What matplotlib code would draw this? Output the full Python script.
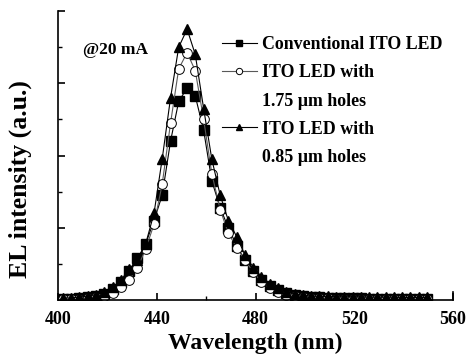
import numpy as np
import matplotlib as mpl
mpl.use('Agg')
import matplotlib.pyplot as plt
from matplotlib.lines import Line2D
from matplotlib.ticker import MultipleLocator, NullFormatter

plt.rcParams['font.family'] = 'Liberation Serif'
plt.rcParams['font.weight'] = 'bold'

# shared wavelength grid (nm)
wavelength = [402.0, 405.4, 408.7, 412.1, 415.4, 418.8, 422.1, 425.5, 428.8, 432.2,
              435.5, 438.9, 442.2, 445.6, 448.9, 452.3, 455.6, 459.0, 462.3, 465.7,
              469.0, 472.4, 475.7, 479.1, 482.4, 485.8, 489.1, 492.5, 495.8, 499.2,
              502.5, 505.9, 509.2, 512.6, 515.9, 519.3, 522.6, 526.0, 529.3, 532.7,
              536.0, 539.4, 542.7, 546.1, 549.4]

conventional = [0.03, 0.04, 0.05, 0.07, 0.10, 0.17, 0.30, 0.50, 0.80, 1.15,
                1.55, 2.20, 2.90, 4.40, 5.50, 5.87, 5.65, 4.70, 3.30, 2.55,
                2.00, 1.50, 1.10, 0.80, 0.55, 0.40, 0.28, 0.20, 0.14, 0.10,
                0.08, 0.07, 0.06, 0.06, 0.05, 0.05, 0.05, 0.04, 0.04, 0.04,
                0.04, 0.04, 0.03, 0.03, 0.03]

holes_175 = [0.02, 0.03, 0.04, 0.05, 0.08, 0.12, 0.20, 0.35, 0.55, 0.90,
             1.40, 2.10, 3.20, 4.90, 6.40, 6.85, 6.35, 5.00, 3.50, 2.50,
             1.85, 1.45, 1.10, 0.78, 0.50, 0.33, 0.22, 0.15, 0.10, 0.08,
             0.06, 0.05, 0.05, 0.04, 0.04, 0.04, 0.04, 0.03, 0.03, 0.03,
             0.03, 0.03, 0.03, 0.03, 0.03]

holes_085 = [0.05, 0.06, 0.08, 0.11, 0.15, 0.22, 0.35, 0.55, 0.85, 1.10,
             1.55, 2.40, 3.90, 5.60, 7.00, 7.50, 6.80, 5.30, 3.90, 2.90,
             2.20, 1.75, 1.25, 0.90, 0.65, 0.45, 0.32, 0.23, 0.17, 0.13,
             0.11, 0.10, 0.10, 0.09, 0.09, 0.09, 0.09, 0.08, 0.08, 0.08,
             0.08, 0.07, 0.07, 0.07, 0.07]

fig = plt.figure(figsize=(4.71, 3.58), dpi=100)
ax = fig.add_axes([0.123, 0.162, 0.839, 0.807])

l1, = ax.plot(wavelength, conventional, color='black', lw=0.8, marker='s', ms=6.5,
              mfc='black', mec='black', label='Conventional ITO LED')
l2, = ax.plot(wavelength, holes_175, color='0.35', lw=0.8, marker='o', ms=7,
              mfc='white', mec='black', mew=0.7, label='ITO LED with')
l3, = ax.plot(wavelength, holes_085, color='black', lw=0.8, marker='^', ms=7.5,
              mfc='black', mec='black', label='ITO LED with')

ax.set_xlim(400, 560)
ax.set_ylim(0, 8)
ax.spines['top'].set_visible(False)
ax.spines['right'].set_visible(False)
ax.spines['left'].set_linewidth(1.2)
ax.spines['bottom'].set_linewidth(1.2)

ax.xaxis.set_major_locator(MultipleLocator(40))
ax.xaxis.set_minor_locator(MultipleLocator(20))
ax.yaxis.set_major_locator(MultipleLocator(2))
ax.yaxis.set_minor_locator(MultipleLocator(1))
ax.yaxis.set_major_formatter(NullFormatter())
ax.tick_params(which='major', direction='in', length=5, width=1.2, labelsize=13, pad=8)
ax.tick_params(which='minor', direction='in', length=3, width=1.0)
# extra tick at right end of x axis
ax.plot([560, 560], [0, 0.22], color='black', lw=1.2, clip_on=False)

ax.set_xlabel('Wavelength (nm)', fontsize=17, fontweight='bold')
ax.xaxis.set_label_coords(0.5, -0.112)
ax.set_ylabel('EL intensity (a.u.)', fontsize=18.5, fontweight='bold')
ax.yaxis.set_label_coords(-0.066, 0.42)

ax.text(0.063, 0.85, '@20 mA', transform=ax.transAxes, fontsize=12.5, fontweight='bold')

blank = Line2D([], [], linestyle='none', marker='none')
handles = [l1, l2, blank, l3, blank]
labels = ['Conventional ITO LED', 'ITO LED with', '1.75 µm holes',
          'ITO LED with', '0.85 µm holes']
ax.legend(handles, labels, loc='upper left', bbox_to_anchor=(0.405, 0.925),
          frameon=False, fontsize=12.9, handlelength=2.0, handletextpad=0.25,
          labelspacing=0.62, borderaxespad=0, borderpad=0.2, markerscale=0.65)

fig.savefig('out.png', dpi=100)
